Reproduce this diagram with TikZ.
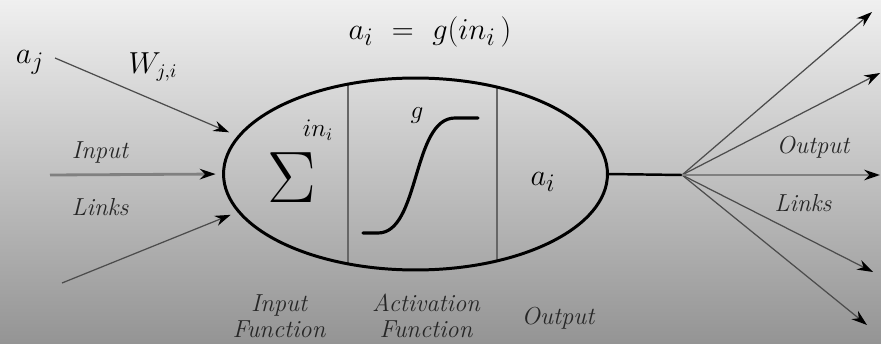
\documentclass[tikz,border=0pt]{standalone}
\usepackage{graphicx}
\usetikzlibrary{arrows.meta,shapes.geometric}
\begin{document}
\begin{tikzpicture}[x=0.02cm,y=-0.02cm,line width=0.8pt,>=Stealth,
  lbl/.style={font=\fontsize{14}{15}\selectfont\itshape,text=black!85,align=center},
  mth/.style={font=\fontsize{19}{21}\selectfont},
  link/.style={-{Stealth[length=9pt,width=6pt,black]},line width=0.7pt,draw=black!70},
  mainlink/.style={link,line width=1.6pt,draw=black!50},
  divider/.style={line width=1.2pt,draw=black!60}]
% ---------- background ----------
\shade[top color=black!6,bottom color=black!42] (0,0) rectangle (881,344);
\useasboundingbox (0,0) rectangle (881,344);
% ---------- unit ----------
\begin{scope}
\clip (415.5,174) ellipse [x radius=3.84cm,y radius=1.92cm];
\draw[divider] (348,60) -- (348,290);
\draw[divider] (497,60) -- (497,290);
\end{scope}
\node[ellipse,draw,line width=1.7pt,minimum width=7.68cm,minimum height=3.84cm,
  inner sep=0pt,outer sep=0pt] (cell) at (415.5,174) {};
\node[font=\fontsize{20}{22}\selectfont] (sum) at (292,178) {\scalebox{2.0}{$\Sigma$}};
\node[font=\fontsize{14}{16}\selectfont] (net) at (318,130) {$in_i$};
\node[font=\fontsize{14}{16}\selectfont] (gname) at (417,116) {$g$};
\node[mth] (aout) at (543,182) {$a_i$};
\node[mth] (rule) at (430,32) {$a_i\ =\ g(in_i\,)$};
% sigmoid
\draw[line width=1.8pt,line cap=round] (363,233) -- (378,233)
  .. controls (420,233) and (412,118) .. (455,118) -- (478,118);
% ---------- inputs ----------
\node[mth] (aj) at (30,62) {$a_j$};
\node[font=\fontsize{16}{18}\selectfont] (wji) at (153,67) {$W_{j,i}$};
\coordinate (src1) at (55,58);
\coordinate (src2) at (50,175);
\coordinate (src3) at (62,283);
\draw[link,shorten >=6pt] (src1) -- (cell.168);
\draw[mainlink,shorten >=4.5pt] (src2) -- (cell.west);
\draw[link,shorten >=5pt] (src3) -- (cell.192);
\node[lbl] (inlbl) at (100,152) {Input};
\node[lbl] (inlinks) at (100,207) {Links};
% ---------- outputs ----------
\coordinate (hub) at (682,175);
\draw[line width=1.4pt] (cell.east) -- (hub);
\coordinate (o1) at (872,12);
\coordinate (o2) at (880,73);
\coordinate (o3) at (880,175);
\coordinate (o4) at (873,272);
\coordinate (o5) at (867,325);
\foreach \t in {o1,o2,o4,o5}
  \draw[link] (hub) -- (\t);
\draw[mainlink] (hub) -- (o3);
\node[lbl] (outlbl) at (813,147) {Output};
\node[lbl] (outlinks) at (803,203) {Links};
% ---------- part names ----------
\node[lbl] (fin) at (279,316) {Input\\Function};
\node[lbl] (fact) at (426,316) {Activation\\Function};
\node[lbl] (fout) at (558,318) {Output};
\end{tikzpicture}
\end{document}
